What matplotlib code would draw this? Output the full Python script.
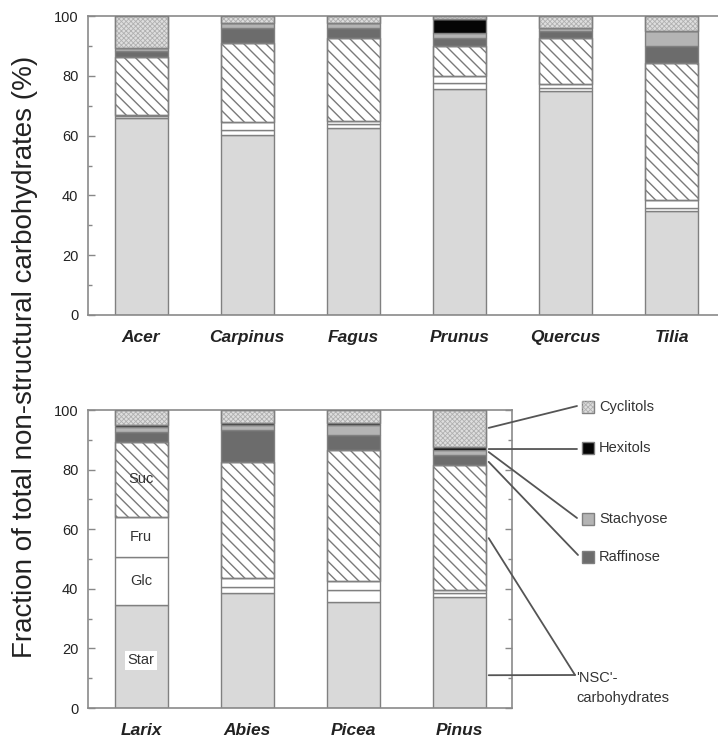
import matplotlib
matplotlib.use("Agg")
import matplotlib.pyplot as plt
from matplotlib.patches import Rectangle
import numpy as np

plt.rcParams['font.family'] = ['Liberation Sans', 'DejaVu Sans']
plt.rcParams['hatch.linewidth'] = 1.0

# ---------------- data ----------------
components = ['Starch', 'Glucose', 'Fructose', 'Sucrose', 'Raffinose', 'Stachyose', 'Hexitols', 'Cyclitols']

top_species = ['Acer', 'Carpinus', 'Fagus', 'Prunus', 'Quercus', 'Tilia']
top_starch    = [66.0, 60.2, 62.6, 75.7, 74.8, 34.8]
top_glucose   = [0.5, 1.7, 1.2, 1.9, 1.2, 1.0]
top_fructose  = [0.5, 2.8, 1.1, 2.3, 1.1, 2.7]
top_sucrose   = [19.4, 26.2, 27.8, 10.0, 15.6, 45.9]
top_raffinose = [1.9, 5.1, 3.4, 2.8, 2.4, 5.5]
top_stachyose = [1.1, 1.6, 1.7, 1.7, 1.0, 5.0]
top_hexitols  = [0.0, 0.0, 0.0, 4.5, 0.0, 0.0]
top_cyclitols = [10.6, 2.4, 2.2, 1.1, 3.9, 5.1]

bot_species = ['Larix', 'Abies', 'Picea', 'Pinus']
bot_starch    = [34.6, 38.5, 35.7, 37.4]
bot_glucose   = [16.2, 2.2, 3.9, 1.2]
bot_fructose  = [13.4, 2.8, 2.9, 1.0]
bot_sucrose   = [25.2, 39.2, 44.1, 41.9]
bot_raffinose = [3.3, 10.6, 5.0, 3.4]
bot_stachyose = [1.7, 1.7, 3.4, 1.7]
bot_hexitols  = [0.5, 0.6, 0.5, 1.1]
bot_cyclitols = [5.1, 4.4, 4.5, 12.3]

y_ticks = [0, 20, 40, 60, 80, 100]
inner_labels = ['Star', 'Glc', 'Fru', 'Suc']
legend_labels = ['Cyclitols', 'Hexitols', 'Stachyose', 'Raffinose']
nsc_label = "'NSC'-\ncarbohydrates"
ylabel = 'Fraction of total non-structural carbohydrates (%)'

# ---------------- styles ----------------
EDGE = '#808080'
styles = {
    'Starch':    dict(fc='#d9d9d9', hatch=None, hc=None, hlw=1.0),
    'Glucose':   dict(fc='white', hatch=None, hc=None, hlw=1.0),
    'Fructose':  dict(fc='white', hatch=None, hc=None, hlw=1.0),
    'Sucrose':   dict(fc='white', hatch='\\\\\\', hc='#7a7a7a', hlw=1.0),
    'Raffinose': dict(fc='#6c6c6c', hatch=None, hc=None, hlw=1.0),
    'Stachyose': dict(fc='#b4b4b4', hatch=None, hc=None, hlw=1.0),
    'Hexitols':  dict(fc='#050505', hatch=None, hc=None, hlw=1.0),
    'Cyclitols': dict(fc='#dedede', hatch='xxxxxxx', hc='#b0b0b0', hlw=0.6),
}

W, H = 718, 742
fig = plt.figure(figsize=(W / 100, H / 100), dpi=100)

ax_top = fig.add_axes([88 / W, (H - 315) / H, 637 / W, 299 / H])
ax_bot = fig.add_axes([88 / W, (H - 708) / H, 424 / W, 298 / H])


def draw(ax, species, series):
    x = np.arange(len(species))
    bottom = np.zeros(len(species))
    for name, vals in zip(components, series):
        vals = np.array(vals, dtype=float)
        st = styles[name]
        ax.bar(x, vals, 0.5, bottom=bottom, color=st['fc'], edgecolor=EDGE,
               linewidth=1.0, zorder=2)
        if st['hatch']:
            with plt.rc_context({'hatch.linewidth': st['hlw']}):
                ax.bar(x, vals, 0.5, bottom=bottom, color='none', edgecolor=st['hc'],
                       hatch=st['hatch'], linewidth=0, zorder=3)
            ax.bar(x, vals, 0.5, bottom=bottom, color='none', edgecolor=EDGE,
                   linewidth=1.0, zorder=4)
        bottom += vals
    ax.set_xlim(-0.5, len(species) - 0.5)
    ax.set_ylim(0, 100)
    ax.set_yticks(y_ticks)
    ax.set_yticks(np.arange(10, 100, 20), minor=True)
    ax.tick_params(axis='y', which='both', direction='in', left=True, right=True,
                   colors='#888888', labelcolor='#222222', labelsize=10.5, width=1.0,
                   pad=7)
    ax.tick_params(axis='y', which='major', length=5)
    ax.tick_params(axis='y', which='minor', length=3)
    ax.set_xticks(x)
    ax.set_xticklabels(species, fontsize=12.5, fontweight='bold', fontstyle='italic',
                       color='#222222')
    ax.tick_params(axis='x', length=0, pad=11)
    for sp in ax.spines.values():
        sp.set_color('#8a8a8a')
        sp.set_linewidth(1.2)
    return x


draw(ax_top, top_species,
     [top_starch, top_glucose, top_fructose, top_sucrose, top_raffinose,
      top_stachyose, top_hexitols, top_cyclitols])
draw(ax_bot, bot_species,
     [bot_starch, bot_glucose, bot_fructose, bot_sucrose, bot_raffinose,
      bot_stachyose, bot_hexitols, bot_cyclitols])

# inner labels in Larix bar
cum = np.cumsum([0, bot_starch[0], bot_glucose[0], bot_fructose[0], bot_sucrose[0]])
mids = [(cum[i] + cum[i + 1]) / 2 for i in range(4)]
mids[0] = 16
for lab, ym in zip(inner_labels, mids):
    kw = {}
    if lab == 'Star':
        kw['bbox'] = dict(boxstyle='square,pad=0.15', fc='white', ec='none')
    ax_bot.text(0, ym, lab, ha='center', va='center', fontsize=10.5, color='#333333',
                zorder=6, **kw)

# y label
fig.text(25 / W, 1 - 357 / H, ylabel, rotation=90, ha='center', va='center',
         fontsize=20, color='#222222')

# legend / callouts on the right of the lower panel
xb = 3.28
line_kw = dict(arrowstyle='-', color='#555555', lw=1.3, shrinkA=0, shrinkB=0)
callouts = [
    (94.0, (577, H - 406)),
    (86.9, (577, H - 449)),
    (85.9, (577, H - 518)),
    (82.6, (578, H - 555)),
    (57.0, (575, H - 675)),
    (11.0, (575, H - 675)),
]
for yv, (px, py) in callouts:
    ax_bot.annotate('', xy=(xb, yv), xycoords='data', xytext=(px, py),
                    textcoords='figure pixels', arrowprops=line_kw,
                    annotation_clip=False, zorder=7)

leg_keys = ['Cyclitols', 'Hexitols', 'Stachyose', 'Raffinose']
leg_y = [H - 407, H - 448, H - 519, H - 557]
for lab, key, yc in zip(legend_labels, leg_keys, leg_y):
    st = styles[key]
    r = Rectangle((582 / W, (yc - 6) / H), 12 / W, 12 / H, transform=fig.transFigure,
                  fc=st['fc'], ec=EDGE, lw=1.0)
    fig.add_artist(r)
    if st['hatch']:
        with plt.rc_context({'hatch.linewidth': st['hlw']}):
            rh = Rectangle((582 / W, (yc - 6) / H), 12 / W, 12 / H, transform=fig.transFigure,
                           fc='none', ec=st['hc'], lw=0, hatch=st['hatch'])
        fig.add_artist(rh)
    fig.text(599 / W, yc / H, lab, ha='left', va='center', fontsize=10.5, color='#333333')

fig.text(576 / W, (H - 688) / H, nsc_label, ha='left', va='center', fontsize=10.5,
         color='#333333', linespacing=1.6)

fig.savefig('out.png', dpi=100)
